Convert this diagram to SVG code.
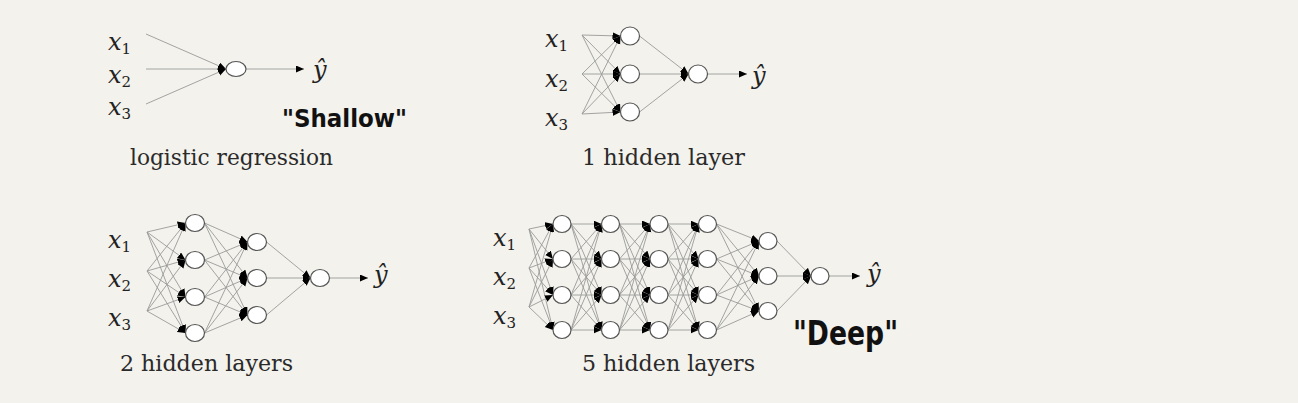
<svg xmlns="http://www.w3.org/2000/svg" width="1298" height="403" viewBox="0 0 1298 403">
<defs>
<marker id="ah" markerUnits="userSpaceOnUse" markerWidth="9" markerHeight="8" refX="8" refY="3.5" orient="auto">
<path d="M0,0 L8,3.5 L0,7 z" fill="#000"/>
</marker>
<style>
.e{stroke:#9a9a9a;stroke-width:0.9;fill:none;marker-end:url(#ah)}
.n{fill:#fff;stroke:#555;stroke-width:1.2}
.x{font-family:"DejaVu Serif","Liberation Serif",serif;font-style:italic;font-size:24px;fill:#222}
.s{font-size:15px;font-style:normal}
.lab{font-family:"DejaVu Serif","Liberation Serif",serif;font-size:22px;fill:#2a2a2a}
.hw{font-family:"DejaVu Sans","Liberation Sans",sans-serif;font-weight:bold;fill:#111}
</style>
</defs>
<rect width="1298" height="403" fill="#f3f2ec"/>

<g id="connectors">
<!-- D1 -->
<line class="e" x1="146" y1="34" x2="226" y2="69"/>
<line class="e" x1="146" y1="69" x2="226" y2="69"/>
<line class="e" x1="146" y1="104" x2="226" y2="69"/>
<line class="e" x1="246" y1="69" x2="304" y2="69"/>
<!-- D2 -->
<line class="e" x1="582" y1="35" x2="620.5" y2="36"/>
<line class="e" x1="582" y1="35" x2="620.5" y2="74"/>
<line class="e" x1="582" y1="35" x2="620.5" y2="112"/>
<line class="e" x1="582" y1="74" x2="620.5" y2="36"/>
<line class="e" x1="582" y1="74" x2="620.5" y2="74"/>
<line class="e" x1="582" y1="74" x2="620.5" y2="112"/>
<line class="e" x1="582" y1="114" x2="620.5" y2="36"/>
<line class="e" x1="582" y1="114" x2="620.5" y2="74"/>
<line class="e" x1="582" y1="114" x2="620.5" y2="112"/>
<line class="e" x1="639.5" y1="36" x2="688.5" y2="74"/>
<line class="e" x1="639.5" y1="74" x2="688.5" y2="74"/>
<line class="e" x1="639.5" y1="112" x2="688.5" y2="74"/>
<line class="e" x1="707.5" y1="74" x2="747" y2="74"/>
<!-- D3 inputs -> H1 -->
<line class="e" x1="147" y1="232" x2="185.5" y2="223"/>
<line class="e" x1="147" y1="232" x2="185.5" y2="260"/>
<line class="e" x1="147" y1="232" x2="185.5" y2="297"/>
<line class="e" x1="147" y1="232" x2="185.5" y2="333"/>
<line class="e" x1="147" y1="271" x2="185.5" y2="223"/>
<line class="e" x1="147" y1="271" x2="185.5" y2="260"/>
<line class="e" x1="147" y1="271" x2="185.5" y2="297"/>
<line class="e" x1="147" y1="271" x2="185.5" y2="333"/>
<line class="e" x1="147" y1="311" x2="185.5" y2="223"/>
<line class="e" x1="147" y1="311" x2="185.5" y2="260"/>
<line class="e" x1="147" y1="311" x2="185.5" y2="297"/>
<line class="e" x1="147" y1="311" x2="185.5" y2="333"/>
<!-- D3 H1 -> H2 -->
<line class="e" x1="204.5" y1="223" x2="247.5" y2="242"/>
<line class="e" x1="204.5" y1="223" x2="247.5" y2="278"/>
<line class="e" x1="204.5" y1="223" x2="247.5" y2="315"/>
<line class="e" x1="204.5" y1="260" x2="247.5" y2="242"/>
<line class="e" x1="204.5" y1="260" x2="247.5" y2="278"/>
<line class="e" x1="204.5" y1="260" x2="247.5" y2="315"/>
<line class="e" x1="204.5" y1="297" x2="247.5" y2="242"/>
<line class="e" x1="204.5" y1="297" x2="247.5" y2="278"/>
<line class="e" x1="204.5" y1="297" x2="247.5" y2="315"/>
<line class="e" x1="204.5" y1="333" x2="247.5" y2="242"/>
<line class="e" x1="204.5" y1="333" x2="247.5" y2="278"/>
<line class="e" x1="204.5" y1="333" x2="247.5" y2="315"/>
<!-- D3 H2 -> out -->
<line class="e" x1="266.5" y1="242" x2="310.5" y2="278"/>
<line class="e" x1="266.5" y1="278" x2="310.5" y2="278"/>
<line class="e" x1="266.5" y1="315" x2="310.5" y2="278"/>
<line class="e" x1="329.5" y1="278" x2="368" y2="278"/>
<!-- D4 inputs -> L1 -->
<line class="e" x1="529" y1="229" x2="553" y2="224"/>
<line class="e" x1="529" y1="229" x2="553" y2="259"/>
<line class="e" x1="529" y1="229" x2="553" y2="295"/>
<line class="e" x1="529" y1="229" x2="553" y2="330"/>
<line class="e" x1="529" y1="268" x2="553" y2="224"/>
<line class="e" x1="529" y1="268" x2="553" y2="259"/>
<line class="e" x1="529" y1="268" x2="553" y2="295"/>
<line class="e" x1="529" y1="268" x2="553" y2="330"/>
<line class="e" x1="529" y1="307" x2="553" y2="224"/>
<line class="e" x1="529" y1="307" x2="553" y2="259"/>
<line class="e" x1="529" y1="307" x2="553" y2="295"/>
<line class="e" x1="529" y1="307" x2="553" y2="330"/>
<!-- D4 L1 -> L2 -->
<line class="e" x1="571" y1="224" x2="601.5" y2="224"/>
<line class="e" x1="571" y1="224" x2="601.5" y2="259"/>
<line class="e" x1="571" y1="224" x2="601.5" y2="295"/>
<line class="e" x1="571" y1="224" x2="601.5" y2="330"/>
<line class="e" x1="571" y1="259" x2="601.5" y2="224"/>
<line class="e" x1="571" y1="259" x2="601.5" y2="259"/>
<line class="e" x1="571" y1="259" x2="601.5" y2="295"/>
<line class="e" x1="571" y1="259" x2="601.5" y2="330"/>
<line class="e" x1="571" y1="295" x2="601.5" y2="224"/>
<line class="e" x1="571" y1="295" x2="601.5" y2="259"/>
<line class="e" x1="571" y1="295" x2="601.5" y2="295"/>
<line class="e" x1="571" y1="295" x2="601.5" y2="330"/>
<line class="e" x1="571" y1="330" x2="601.5" y2="224"/>
<line class="e" x1="571" y1="330" x2="601.5" y2="259"/>
<line class="e" x1="571" y1="330" x2="601.5" y2="295"/>
<line class="e" x1="571" y1="330" x2="601.5" y2="330"/>
<!-- D4 L2 -> L3 -->
<line class="e" x1="619.5" y1="224" x2="650" y2="224"/>
<line class="e" x1="619.5" y1="224" x2="650" y2="259"/>
<line class="e" x1="619.5" y1="224" x2="650" y2="295"/>
<line class="e" x1="619.5" y1="224" x2="650" y2="330"/>
<line class="e" x1="619.5" y1="259" x2="650" y2="224"/>
<line class="e" x1="619.5" y1="259" x2="650" y2="259"/>
<line class="e" x1="619.5" y1="259" x2="650" y2="295"/>
<line class="e" x1="619.5" y1="259" x2="650" y2="330"/>
<line class="e" x1="619.5" y1="295" x2="650" y2="224"/>
<line class="e" x1="619.5" y1="295" x2="650" y2="259"/>
<line class="e" x1="619.5" y1="295" x2="650" y2="295"/>
<line class="e" x1="619.5" y1="295" x2="650" y2="330"/>
<line class="e" x1="619.5" y1="330" x2="650" y2="224"/>
<line class="e" x1="619.5" y1="330" x2="650" y2="259"/>
<line class="e" x1="619.5" y1="330" x2="650" y2="295"/>
<line class="e" x1="619.5" y1="330" x2="650" y2="330"/>
<!-- D4 L3 -> L4 -->
<line class="e" x1="668" y1="224" x2="698.5" y2="224"/>
<line class="e" x1="668" y1="224" x2="698.5" y2="259"/>
<line class="e" x1="668" y1="224" x2="698.5" y2="295"/>
<line class="e" x1="668" y1="224" x2="698.5" y2="330"/>
<line class="e" x1="668" y1="259" x2="698.5" y2="224"/>
<line class="e" x1="668" y1="259" x2="698.5" y2="259"/>
<line class="e" x1="668" y1="259" x2="698.5" y2="295"/>
<line class="e" x1="668" y1="259" x2="698.5" y2="330"/>
<line class="e" x1="668" y1="295" x2="698.5" y2="224"/>
<line class="e" x1="668" y1="295" x2="698.5" y2="259"/>
<line class="e" x1="668" y1="295" x2="698.5" y2="295"/>
<line class="e" x1="668" y1="295" x2="698.5" y2="330"/>
<line class="e" x1="668" y1="330" x2="698.5" y2="224"/>
<line class="e" x1="668" y1="330" x2="698.5" y2="259"/>
<line class="e" x1="668" y1="330" x2="698.5" y2="295"/>
<line class="e" x1="668" y1="330" x2="698.5" y2="330"/>
<!-- D4 L4 -> L5 -->
<line class="e" x1="716.5" y1="224" x2="759" y2="241"/>
<line class="e" x1="716.5" y1="224" x2="759" y2="276"/>
<line class="e" x1="716.5" y1="224" x2="759" y2="311"/>
<line class="e" x1="716.5" y1="259" x2="759" y2="241"/>
<line class="e" x1="716.5" y1="259" x2="759" y2="276"/>
<line class="e" x1="716.5" y1="259" x2="759" y2="311"/>
<line class="e" x1="716.5" y1="295" x2="759" y2="241"/>
<line class="e" x1="716.5" y1="295" x2="759" y2="276"/>
<line class="e" x1="716.5" y1="295" x2="759" y2="311"/>
<line class="e" x1="716.5" y1="330" x2="759" y2="241"/>
<line class="e" x1="716.5" y1="330" x2="759" y2="276"/>
<line class="e" x1="716.5" y1="330" x2="759" y2="311"/>
<!-- D4 L5 -> out -->
<line class="e" x1="777" y1="241" x2="811" y2="276"/>
<line class="e" x1="777" y1="276" x2="811" y2="276"/>
<line class="e" x1="777" y1="311" x2="811" y2="276"/>
<line class="e" x1="829" y1="276" x2="860" y2="276"/>
</g>

<g id="logistic-regression">
<ellipse id="d1-out" class="n" cx="236" cy="69" rx="10" ry="7.5"/>
<text class="x" x="108" y="50">x<tspan class="s" dy="4">1</tspan></text>
<text class="x" x="108" y="83">x<tspan class="s" dy="4">2</tspan></text>
<text class="x" x="108" y="115">x<tspan class="s" dy="4">3</tspan></text>
<text class="x" x="313" y="78">ŷ</text>
<text class="lab" x="130" y="165" textLength="203" lengthAdjust="spacingAndGlyphs">logistic regression</text>
<text class="hw" x="282" y="127" font-size="24" textLength="125" lengthAdjust="spacingAndGlyphs">"Shallow"</text>
</g>

<g id="one-hidden-layer">
<ellipse class="n" cx="630" cy="36" rx="9.5" ry="9"/>
<ellipse class="n" cx="630" cy="74" rx="9.5" ry="9"/>
<ellipse class="n" cx="630" cy="112" rx="9.5" ry="9"/>
<ellipse class="n" cx="698" cy="74" rx="9.5" ry="9"/>
<text class="x" x="545" y="47">x<tspan class="s" dy="4">1</tspan></text>
<text class="x" x="545" y="87">x<tspan class="s" dy="4">2</tspan></text>
<text class="x" x="545" y="126">x<tspan class="s" dy="4">3</tspan></text>
<text class="x" x="752" y="84">ŷ</text>
<text class="lab" x="582" y="165" textLength="163" lengthAdjust="spacingAndGlyphs">1 hidden layer</text>
</g>

<g id="two-hidden-layers">
<ellipse class="n" cx="195" cy="223" rx="9.5" ry="8.5"/>
<ellipse class="n" cx="195" cy="260" rx="9.5" ry="8.5"/>
<ellipse class="n" cx="195" cy="297" rx="9.5" ry="8.5"/>
<ellipse class="n" cx="195" cy="333" rx="9.5" ry="8.5"/>
<ellipse class="n" cx="257" cy="242" rx="9.5" ry="8.5"/>
<ellipse class="n" cx="257" cy="278" rx="9.5" ry="8.5"/>
<ellipse class="n" cx="257" cy="315" rx="9.5" ry="8.5"/>
<ellipse class="n" cx="320" cy="278" rx="9.5" ry="8.5"/>
<text class="x" x="108" y="248">x<tspan class="s" dy="4">1</tspan></text>
<text class="x" x="108" y="287">x<tspan class="s" dy="4">2</tspan></text>
<text class="x" x="108" y="326">x<tspan class="s" dy="4">3</tspan></text>
<text class="x" x="374" y="283">ŷ</text>
<text class="lab" x="120" y="371" textLength="173" lengthAdjust="spacingAndGlyphs">2 hidden layers</text>
</g>

<g id="five-hidden-layers">
<ellipse class="n" cx="562" cy="224" rx="9" ry="8.5"/>
<ellipse class="n" cx="562" cy="259" rx="9" ry="8.5"/>
<ellipse class="n" cx="562" cy="295" rx="9" ry="8.5"/>
<ellipse class="n" cx="562" cy="330" rx="9" ry="8.5"/>
<ellipse class="n" cx="610.5" cy="224" rx="9" ry="8.5"/>
<ellipse class="n" cx="610.5" cy="259" rx="9" ry="8.5"/>
<ellipse class="n" cx="610.5" cy="295" rx="9" ry="8.5"/>
<ellipse class="n" cx="610.5" cy="330" rx="9" ry="8.5"/>
<ellipse class="n" cx="659" cy="224" rx="9" ry="8.5"/>
<ellipse class="n" cx="659" cy="259" rx="9" ry="8.5"/>
<ellipse class="n" cx="659" cy="295" rx="9" ry="8.5"/>
<ellipse class="n" cx="659" cy="330" rx="9" ry="8.5"/>
<ellipse class="n" cx="707.5" cy="224" rx="9" ry="8.5"/>
<ellipse class="n" cx="707.5" cy="259" rx="9" ry="8.5"/>
<ellipse class="n" cx="707.5" cy="295" rx="9" ry="8.5"/>
<ellipse class="n" cx="707.5" cy="330" rx="9" ry="8.5"/>
<ellipse class="n" cx="768" cy="241" rx="9" ry="8.5"/>
<ellipse class="n" cx="768" cy="276" rx="9" ry="8.5"/>
<ellipse class="n" cx="768" cy="311" rx="9" ry="8.5"/>
<ellipse class="n" cx="820" cy="276" rx="9" ry="8.5"/>
<text class="x" x="493" y="246">x<tspan class="s" dy="4">1</tspan></text>
<text class="x" x="493" y="285">x<tspan class="s" dy="4">2</tspan></text>
<text class="x" x="493" y="324">x<tspan class="s" dy="4">3</tspan></text>
<text class="x" x="867" y="282">ŷ</text>
<text class="lab" x="582" y="371" textLength="173" lengthAdjust="spacingAndGlyphs">5 hidden layers</text>
<text class="hw" x="793" y="345" font-size="34" textLength="105" lengthAdjust="spacingAndGlyphs">"Deep"</text>
</g>
</svg>
